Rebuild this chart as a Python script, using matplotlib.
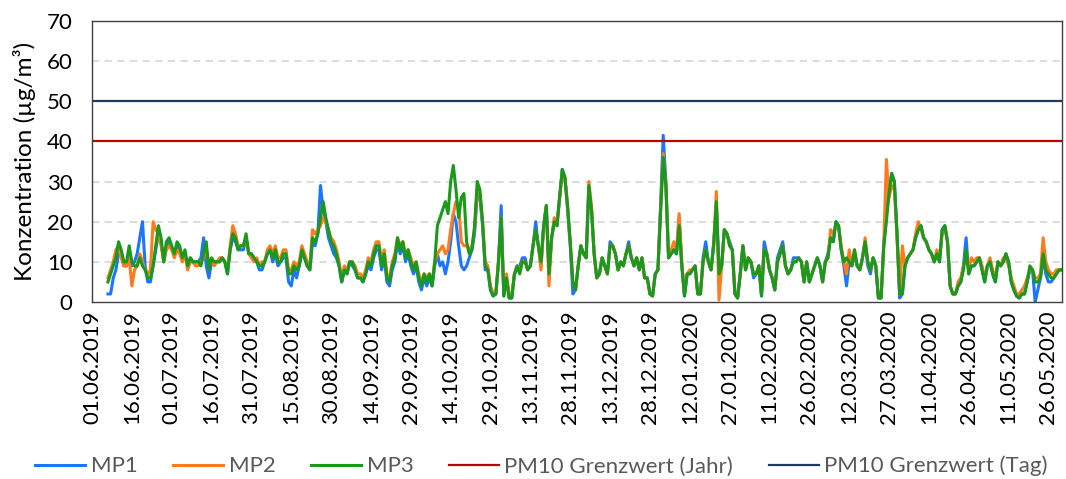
import numpy as np
import pandas as pd
import matplotlib
matplotlib.use("Agg")
import matplotlib.pyplot as plt
import matplotlib.dates as mdates

plt.rcParams['font.family'] = ['Lato', 'DejaVu Sans']

# Tageswerte PM10, 07.06.2019 - 31.05.2020
start = "2019-06-07"

mp1 = [2, 2, 6, 8, 12, 12, 9, 9, 13, 9,
       10, 12, 16, 20, 9, 5, 5, 9, 13, 17,
       15, 10, 14, 15, 13, 12, 14, 13, 11, 12,
       9, 11, 10, 10, 10, 11, 16, 9, 6, 10,
       10, 10, 10, 11, 10, 7, 13, 16, 15, 13,
       13, 13, 16, 12, 12, 11, 10, 8, 8, 10,
       12, 13, 10, 12, 9, 10, 11, 11, 5, 4,
       8, 6, 9, 12, 11, 9, 8, 15, 14, 17,
       29, 23, 20, 16, 14, 12, 11, 9, 5, 8,
       7, 10, 9, 8, 6, 6, 5, 7, 9, 8,
       11, 13, 13, 8, 11, 5, 4, 8, 10, 15,
       12, 14, 10, 12, 9, 7, 9, 5, 3, 6,
       4, 6, 4, 9, 12, 9, 10, 7, 10, 15,
       22, 20, 14, 9, 8, 9, 11, 13, 17, 27,
       26, 19, 8, 8, 3, 1.5, 2, 10, 24, 1.5,
       6, 1, 1, 7, 8, 9, 11, 11, 8, 9,
       14, 20, 14, 9, 19, 24, 7, 16, 20, 19,
       26, 33, 31, 23, 14, 2, 3, 9, 14, 12,
       11, 28, 23, 12, 6, 7, 11, 9, 7, 15,
       14, 12, 8, 10, 9, 12, 15, 11, 9, 11,
       8, 11, 6, 6, 2, 1.5, 7, 8, 24, 41.5,
       30, 11, 12, 13, 12, 21, 9, 1.5, 7, 7,
       8, 9, 2, 2, 11, 15, 10, 8, 15, 24,
       9, 9, 18, 17, 15, 13, 2, 1, 7, 14,
       8, 11, 10, 6, 7, 9, 1.5, 15, 12, 8,
       6, 3, 11, 13, 15, 9, 7, 8, 11, 11,
       11, 10, 5, 10, 5, 7, 9, 11, 9, 5,
       10, 12, 16, 15, 20, 19, 13, 9, 4, 10,
       9, 12, 9, 8, 11, 15, 9, 7, 11, 9,
       1, 1, 14, 22, 28, 32, 30, 17, 1, 2,
       9, 11, 12, 13, 16, 18, 19, 16, 15, 13,
       12, 10, 12, 10, 18, 19, 15, 4, 2, 2,
       4, 5, 9, 16, 7, 9, 9, 10, 11, 8,
       5, 9, 10, 7, 5, 10, 9, 10, 12, 10,
       5, 3, 1.5, 1, 2, 2, 5, 8, 8, 0,
       3, 6, 11, 7, 5, 5, 6, 7, 8, 8]

mp2 = [6, 8, 10, 13, 14, 11, 9, 9, 11, 4,
       8, 9, 12, 10, 8, 7, 8, 20, 18, 17,
       14, 10, 13, 14, 13, 11, 13, 12, 10, 12,
       8, 10, 10, 9, 9, 10, 11, 13, 10, 10,
       9, 10, 11, 11, 10, 8, 14, 19, 17, 14,
       14, 14, 16, 12, 11, 10, 11, 9, 10, 10,
       13, 14, 12, 14, 11, 11, 13, 13, 8, 8,
       10, 9, 10, 14, 12, 10, 9, 18, 17, 18,
       19, 21, 20, 18, 16, 15, 13, 10, 6, 9,
       8, 10, 10, 9, 7, 7, 6, 8, 11, 10,
       13, 15, 15, 10, 13, 7, 6, 10, 12, 16,
       14, 15, 12, 13, 11, 9, 10, 7, 5, 7,
       6, 7, 5, 10, 12, 13, 14, 12, 13, 18,
       22, 25, 24, 15, 14, 14, 13, 14, 18, 28,
       27, 20, 10, 9, 4, 2, 2, 10, 21, 2,
       7, 2, 1.5, 7, 9, 8, 10, 10, 8, 9,
       14, 18, 14, 8, 19, 24, 4, 16, 21, 19,
       26, 32, 31, 24, 15, 5, 3, 9, 14, 12,
       11, 30, 24, 12, 6, 7, 11, 9, 7, 14,
       14, 12, 8, 10, 9, 12, 14, 11, 9, 11,
       8, 11, 6, 6, 2, 1.5, 7, 8, 23, 37,
       29, 12, 13, 15, 13, 22, 10, 2, 7, 8,
       8, 9, 2, 2, 10, 13, 10, 8, 14, 27.5,
       0.5, 9, 18, 17, 14, 13, 2, 1, 7, 14,
       8, 11, 10, 7, 7, 9, 2, 13, 12, 8,
       6, 3, 10, 12, 14, 9, 7, 8, 10, 10,
       11, 10, 5, 10, 5, 7, 9, 11, 9, 5,
       10, 11, 18, 17, 19, 19, 14, 10, 7, 13,
       9, 13, 9, 8, 11, 16, 10, 8, 11, 9,
       1, 1, 14, 35.5, 26, 29, 28, 16, 2, 14,
       9, 11, 12, 13, 17, 20, 18, 16, 15, 13,
       12, 10, 13, 11, 17, 19, 15, 4, 2, 2,
       5, 6, 9, 12, 8, 11, 10, 11, 11, 9,
       6, 9, 11, 8, 6, 10, 9, 11, 11, 9,
       6, 4, 2, 2, 3, 4, 6, 8, 8, 6,
       6, 7, 16, 10, 8, 7, 7, 8, 8, 8]

mp3 = [5, 7, 9, 11, 15, 13, 10, 10, 14, 10,
       9, 9, 11, 9, 8, 6, 6, 9, 14, 19,
       16, 10, 15, 16, 14, 12, 15, 14, 11, 13,
       9, 11, 10, 10, 10, 9, 12, 15, 8, 11,
       10, 10, 10, 11, 10, 7, 13, 17, 16, 13,
       14, 14, 17, 12, 12, 11, 10, 9, 9, 10,
       12, 13, 11, 13, 10, 10, 12, 12, 7, 7,
       9, 8, 9, 13, 11, 9, 8, 16, 15, 17,
       21, 25, 21, 18, 15, 14, 12, 9, 5, 8,
       7, 10, 10, 8, 6, 6, 5, 7, 10, 9,
       12, 14, 14, 9, 12, 6, 5, 9, 11, 16,
       13, 15, 11, 13, 10, 8, 10, 6, 4, 7,
       5, 7, 4, 10, 19, 21, 23, 25, 22, 30,
       34, 28, 21, 26, 27, 15, 12, 13, 19, 30,
       28, 20, 9, 8, 3, 1.5, 2, 10, 21, 1.5,
       6, 1, 1, 7, 9, 7, 10, 10, 8, 9,
       14, 18, 14, 10, 19, 24, 7, 16, 20, 19,
       26, 33, 31, 24, 15, 5, 3, 9, 14, 12,
       11, 29, 23, 12, 6, 7, 11, 9, 7, 14,
       14, 12, 8, 10, 9, 12, 14, 11, 9, 11,
       8, 11, 6, 6, 2, 1.5, 7, 8, 22, 36,
       29, 11, 12, 13, 12, 19, 9, 1.5, 7, 7,
       8, 9, 2, 2, 10, 13, 10, 8, 14, 25,
       7, 9, 18, 17, 14, 13, 2, 1, 7, 14,
       8, 11, 10, 7, 7, 9, 1.5, 13, 12, 8,
       6, 3, 10, 12, 14, 9, 7, 8, 10, 10,
       11, 10, 5, 10, 5, 7, 9, 11, 9, 5,
       10, 11, 16, 15, 20, 19, 13, 10, 11, 10,
       9, 13, 9, 8, 11, 15, 10, 8, 11, 9,
       1, 1, 14, 20, 27, 32, 30, 17, 2, 2,
       9, 11, 12, 13, 16, 18, 19, 16, 15, 13,
       12, 10, 12, 10, 18, 19, 15, 4, 2, 2,
       4, 5, 8, 13, 7, 9, 9, 10, 11, 8,
       5, 9, 10, 7, 5, 10, 9, 10, 12, 10,
       5, 3, 1.5, 1, 2, 2, 5, 9, 8, 5,
       5, 6, 12, 8, 7, 6, 6, 7, 8, 8]

grenzwert_jahr = 40
grenzwert_tag = 50

dates = pd.date_range(start, periods=len(mp3), freq="D")
tick_dates = pd.date_range("2019-06-01", "2020-05-26", freq="15D")

fig = plt.figure(figsize=(10.66, 4.79), dpi=100)
ax = fig.add_axes([0.0863, 0.3695, 0.9097, 0.587])

for v in [10, 20, 30, 60]:
    ax.axhline(v, color="#d9d9d9", lw=1.3, ls=(0, (4, 3)), zorder=0)

ax.plot(dates, mp1, color="#1a75ff", lw=2.2, label="MP1")
ax.plot(dates, mp2, color="#ff7a1a", lw=2.2, label="MP2")
ax.plot(dates, mp3, color="#1a9a1a", lw=2.2, label="MP3")
ax.axhline(grenzwert_jahr, color="#c00000", lw=1.6, label="PM10 Grenzwert (Jahr)")
ax.axhline(grenzwert_tag, color="#203864", lw=1.6, label="PM10 Grenzwert (Tag)")

ax.set_xlim(pd.Timestamp("2019-06-01"), pd.Timestamp("2020-05-31"))
ax.set_ylim(0, 70)
ax.set_yticks(range(0, 71, 10))
ax.set_xticks(tick_dates)
ax.xaxis.set_major_formatter(mdates.DateFormatter("%d.%m.%Y"))
ax.tick_params(axis="x", rotation=90, length=0, labelsize=16, pad=6)
ax.tick_params(axis="y", length=0, labelsize=16, pad=14)
for s in ax.spines.values():
    s.set_color("#404040")
    s.set_linewidth(1.0)

ax.set_ylabel("Konzentration (µg/m³)", fontsize=17.5)
ax.yaxis.set_label_coords(-0.058, 0.5)

leg = fig.legend(loc="center", bbox_to_anchor=(0.508, 0.027), ncol=5, frameon=False,
                 fontsize=16, handlelength=2.25, columnspacing=1.6, handletextpad=0.25)
for t in leg.get_texts():
    t.set_color("#595959")

fig.savefig("out.png", dpi=100)
